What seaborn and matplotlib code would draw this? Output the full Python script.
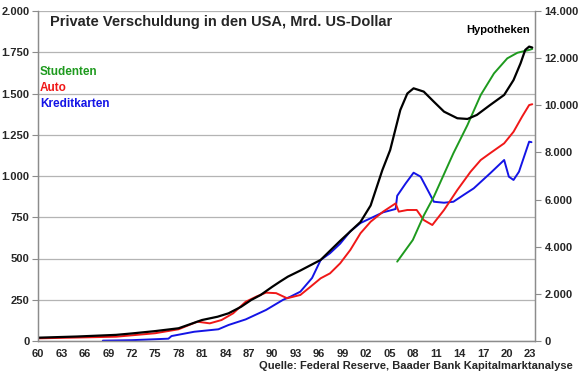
import matplotlib
matplotlib.use("Agg")
import matplotlib.pyplot as plt
import matplotlib.ticker as mticker
import seaborn as sns
import pandas as pd

# ---------------- data ----------------
hyp_years = [1960, 1965, 1970, 1972, 1975, 1978, 1981, 1983, 1984.4, 1986, 1987.3, 1988.5,
             1990, 1991, 1992, 1993.6, 1996.2, 1998.7, 2000, 2001.3, 2002.6, 2004.1, 2005.1,
             2006.4, 2007.3, 2008.1, 2009.4, 2010.7, 2012, 2013.7, 2015, 2016.2, 2017.9,
             2019.7, 2020.9, 2021.8, 2022.4, 2022.9, 2023.3]
hyp_values = [140, 190, 260, 320, 420, 540, 890, 1030, 1175, 1450, 1740, 1950,
              2300, 2520, 2730, 2990, 3440, 4250, 4650, 5050, 5750, 7250, 8100,
              9800, 10500, 10720, 10580, 10150, 9730, 9450, 9420, 9590, 10010,
              10440, 11070, 11780, 12350, 12490, 12450]

auto_years = [1960, 1965, 1970, 1975, 1978, 1980.4, 1982, 1983.5, 1985, 1986.6, 1988, 1989.2,
              1990.5, 1991.9, 1993.6, 1994.9, 1996.2, 1997.4, 1998.7, 2000, 2001.3, 2002.6,
              2004.2, 2005.8, 2006.2, 2007.3, 2008.5, 2009.4, 2010.5, 2012, 2013.7, 2015.4,
              2016.7, 2017.9, 2019.7, 2020.9, 2022, 2022.9, 2023.3]
auto_values = [16, 21, 26, 47, 71, 117, 107, 127, 168, 238, 270, 293,
               290, 259, 279, 329, 380, 410, 471, 552, 653, 723,
               784, 834, 784, 794, 794, 733, 703, 794, 915, 1026,
               1097, 1138, 1198, 1268, 1360, 1430, 1435]

kk_years = [1968.3, 1972, 1976.7, 1977.1, 1980, 1983.1, 1984.4, 1986.6, 1989.2, 1991.4, 1992.3,
            1993.6, 1995.1, 1996.2, 1997.4, 1998.7, 2000, 2001.3, 2002.6, 2004.2, 2005.8,
            2006.0, 2007.1, 2008.1, 2009, 2010.7, 2012, 2013.2, 2014.5, 2015.8, 2017.9,
            2019.7, 2020.3, 2020.9, 2021.6, 2022.9, 2023.2]
kk_values = [2, 5, 14, 30, 56, 71, 97, 131, 188, 250, 268,
             299, 382, 491, 532, 590, 665, 715, 744, 780, 800,
             880, 956, 1020, 996, 844, 838, 844, 885, 925, 1016,
             1097, 996, 976, 1026, 1208, 1205]

stud_years = [2006, 2008, 2009.4, 2010.7, 2013.2, 2015, 2016.7, 2018.4, 2020.1, 2021.4, 2022.9, 2023.3]
stud_values = [481, 612, 760, 875, 1138, 1309, 1491, 1622, 1713, 1747, 1764, 1770]

x_tick_years = list(range(1960, 2024, 3))
x_tick_labels = [f"{y % 100:02d}" for y in x_tick_years]
left_ticks = list(range(0, 2001, 250))
right_ticks = list(range(0, 14001, 2000))

# ---------------- styling ----------------
sns.set_style("white")
plt.rcParams["font.family"] = ["Liberation Sans", "DejaVu Sans"]
plt.rcParams["font.weight"] = "bold"

GREEN = "#1e9a1e"
RED = "#f01818"
BLUE = "#1414e6"
GRID = "#b4b4b4"
SPINE = "#8c8c8c"

fig = plt.figure(figsize=(5.8, 3.75), dpi=100)
ax = fig.add_axes([38 / 580, 34 / 375, 497 / 580, 330 / 375])
ax2 = ax.twinx()

left_df = pd.concat([
    pd.DataFrame({"Jahr": kk_years, "Wert": kk_values, "Serie": "Kreditkarten"}),
    pd.DataFrame({"Jahr": auto_years, "Wert": auto_values, "Serie": "Auto"}),
    pd.DataFrame({"Jahr": stud_years, "Wert": stud_values, "Serie": "Studenten"}),
])
sns.lineplot(data=left_df, x="Jahr", y="Wert", hue="Serie", ax=ax,
             palette={"Kreditkarten": BLUE, "Auto": RED, "Studenten": GREEN},
             linewidth=1.4, legend=False, sort=False, estimator=None)

hyp_df = pd.DataFrame({"Jahr": hyp_years, "Wert": hyp_values})
sns.lineplot(data=hyp_df, x="Jahr", y="Wert", ax=ax2, color="black",
             linewidth=1.6, legend=False, sort=False, estimator=None)

ax.set_xlim(1960, 2023.65)
ax.set_ylim(0, 2000)
ax2.set_ylim(0, 14000)
ax.set_xlabel("")
ax.set_ylabel("")
ax2.set_ylabel("")

fmt = mticker.FuncFormatter(lambda v, p: f"{int(v):,}".replace(",", "."))
ax.set_yticks(left_ticks)
ax.yaxis.set_major_formatter(fmt)
ax2.set_yticks(right_ticks)
ax2.yaxis.set_major_formatter(fmt)
ax.set_xticks(x_tick_years)
ax.set_xticklabels(x_tick_labels)

ax.grid(axis="y", color=GRID, linewidth=0.9)
ax.set_axisbelow(True)

for a in (ax, ax2):
    for side in ("left", "right", "bottom"):
        a.spines[side].set_color(SPINE)
        a.spines[side].set_linewidth(0.9)
    a.spines["top"].set_visible(False)

ax.tick_params(axis="y", which="major", direction="out", length=4, width=0.8,
               color=SPINE, labelsize=8, pad=2)
ax.tick_params(axis="x", which="major", direction="out", length=4, width=0.8,
               color=SPINE, labelsize=8, pad=2)
ax2.tick_params(axis="y", which="major", direction="out", length=4, width=0.8,
                color=SPINE, labelsize=8, pad=3)
for lbl in ax.get_xticklabels() + ax.get_yticklabels() + ax2.get_yticklabels():
    lbl.set_fontweight("bold")

# texts
ax.text(0.024, 0.968, "Private Verschuldung in den USA, Mrd. US-Dollar",
        transform=ax.transAxes, fontsize=10.5, fontweight="bold", va="center", ha="left")
ax.text(2.0 / 497, (341 - 72) / 330, "Studenten", transform=ax.transAxes,
        color=GREEN, fontsize=8.5, fontweight="bold", va="center", ha="left")
ax.text(2.0 / 497, (341 - 88) / 330, "Auto", transform=ax.transAxes,
        color=RED, fontsize=8.5, fontweight="bold", va="center", ha="left")
ax.text(2.0 / 497, (341 - 104) / 330, "Kreditkarten", transform=ax.transAxes,
        color=BLUE, fontsize=8.5, fontweight="bold", va="center", ha="left")
ax.text((530 - 38) / 497, (341 - 30) / 330, "Hypotheken", transform=ax.transAxes,
        color="black", fontsize=8, fontweight="bold", va="center", ha="right")
fig.text(573 / 580, 1 - 366 / 375, "Quelle: Federal Reserve, Baader Bank Kapitalmarktanalyse",
         fontsize=8, fontweight="bold", ha="right", va="center")

fig.savefig("out.png", dpi=100)
